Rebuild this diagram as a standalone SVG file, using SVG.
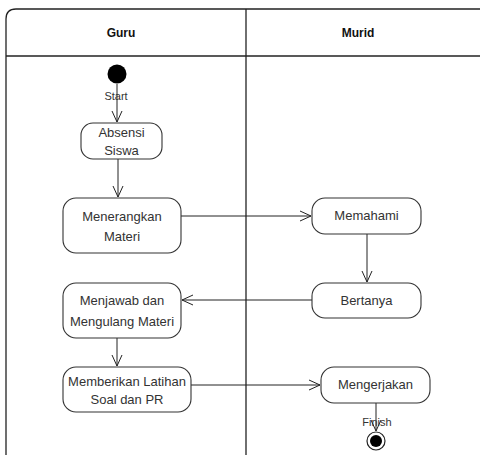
<svg xmlns="http://www.w3.org/2000/svg" width="480" height="455" viewBox="0 0 480 455">
  <style>
    .lane { fill: none; stroke: #222; stroke-width: 1.3; }
    .head { font-family: "Liberation Sans", Arial, sans-serif; font-size: 12px; font-weight: bold; fill: #111; text-anchor: middle; }
    .act { fill: #fff; stroke: #333; stroke-width: 1.1; }
    .lbl { font-family: "Liberation Sans", Arial, sans-serif; font-size: 13px; fill: #333; text-anchor: middle; }
    .small { font-family: "Liberation Sans", Arial, sans-serif; font-size: 11px; fill: #333; text-anchor: middle; }
    .flow { fill: none; stroke: #222; stroke-width: 1; }
  </style>
  <defs>
    <marker id="open" viewBox="0 0 12 12" refX="11" refY="6" markerWidth="12" markerHeight="12" markerUnits="userSpaceOnUse" orient="auto">
      <path d="M0,1 L11,6 L0,11" fill="none" stroke="#222" stroke-width="1"/>
    </marker>
  </defs>
  <rect width="480" height="455" fill="#fff"/>

  <!-- swimlane pool -->
  <g id="pool">
    <path class="lane" d="M6,455 V19 Q6,9 16,9 H480"/>
    <line class="lane" x1="6" y1="56" x2="480" y2="56"/>
    <line class="lane" x1="246" y1="9" x2="246" y2="455"/>
    <text class="head" x="121" y="37">Guru</text>
    <text class="head" x="358" y="37">Murid</text>
  </g>

  <!-- control flows -->
  <g id="connectors">
    <line class="flow" x1="117" y1="84" x2="117" y2="122" marker-end="url(#open)"/>
    <line class="flow" x1="118" y1="159" x2="118" y2="197" marker-end="url(#open)"/>
    <line class="flow" x1="181" y1="216" x2="311" y2="216" marker-end="url(#open)"/>
    <line class="flow" x1="367" y1="234" x2="367" y2="282" marker-end="url(#open)"/>
    <line class="flow" x1="312" y1="300" x2="182" y2="300" marker-end="url(#open)"/>
    <line class="flow" x1="117" y1="338" x2="117" y2="366" marker-end="url(#open)"/>
    <line class="flow" x1="191" y1="385" x2="320" y2="385" marker-end="url(#open)"/>
    <line class="flow" x1="376" y1="403" x2="376" y2="431" marker-end="url(#open)"/>
  </g>

  <g id="start">
    <circle cx="117" cy="74" r="9.5" fill="#000"/>
    <text class="small" x="116" y="100">Start</text>
  </g>

  <g id="absensi">
    <rect class="act" x="81" y="123" width="81" height="36" rx="12"/>
    <text class="lbl" x="121.5" y="137">Absensi</text>
    <text class="lbl" x="121.5" y="155">Siswa</text>
  </g>

  <g id="menerangkan">
    <rect class="act" x="63" y="198" width="118" height="55" rx="13"/>
    <text class="lbl" x="122" y="221">Menerangkan</text>
    <text class="lbl" x="122" y="241">Materi</text>
  </g>

  <g id="memahami">
    <rect class="act" x="312" y="198" width="109" height="36" rx="13"/>
    <text class="lbl" x="366.5" y="220">Memahami</text>
  </g>

  <g id="bertanya">
    <rect class="act" x="312" y="283" width="109" height="35" rx="13"/>
    <text class="lbl" x="366.5" y="305">Bertanya</text>
  </g>

  <g id="menjawab">
    <rect class="act" x="63" y="283" width="118" height="55" rx="13"/>
    <text class="lbl" x="122" y="305">Menjawab dan</text>
    <text class="lbl" x="122" y="326">Mengulang Materi</text>
  </g>

  <g id="memberikan">
    <rect class="act" x="63" y="367" width="128" height="45" rx="13"/>
    <text class="lbl" x="127" y="386">Memberikan Latihan</text>
    <text class="lbl" x="127" y="404">Soal dan PR</text>
  </g>

  <g id="mengerjakan">
    <rect class="act" x="321" y="367" width="109" height="36" rx="13"/>
    <text class="lbl" x="375.5" y="389">Mengerjakan</text>
  </g>

  <g id="finish">
    <circle cx="376" cy="441" r="9" fill="#fff" stroke="#222" stroke-width="1.2"/>
    <circle cx="376" cy="441" r="6" fill="#000"/>
    <text class="small" x="377" y="426">Finish</text>
  </g>
</svg>
